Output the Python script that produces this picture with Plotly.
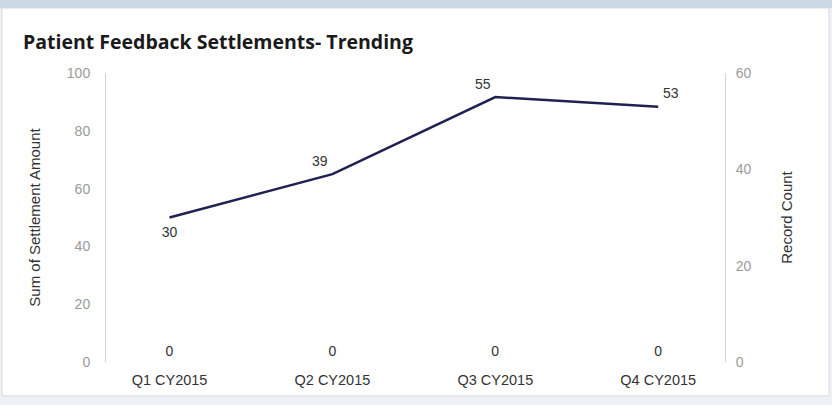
import plotly.graph_objects as go

# Quarterly data
quarters = ["Q1 CY2015", "Q2 CY2015", "Q3 CY2015", "Q4 CY2015"]
settlement_amount = [0, 0, 0, 0]
record_count = [30, 39, 55, 53]

left_ticks = [0, 20, 40, 60, 80, 100]
right_ticks = [0, 20, 40, 60]

W, H = 832, 405
L, R, T, B = 106, 725, 73, 362  # plot area in pixels
FONT = "Liberation Sans, Arial"


def px_x(px):
    return (px - L) / (R - L)


def px_y(py):
    return (B - py) / (B - T)


fig = go.Figure()

# Sum of Settlement Amount (all zero): bars of no height with their value labels
fig.add_trace(go.Bar(
    x=quarters, y=settlement_amount, yaxis="y",
    marker=dict(color="rgba(0,0,0,0)", line=dict(width=0)), width=0.5,
    text=[str(v) for v in settlement_amount], textposition="outside",
    textfont=dict(family=FONT, size=14, color="#333333"),
    cliponaxis=False, showlegend=False, hoverinfo="skip",
))

# Record Count line on the secondary axis (invisible markers give the labels some room)
fig.add_trace(go.Scatter(
    x=quarters, y=record_count, yaxis="y2", mode="lines+markers+text",
    line=dict(color="#1f2250", width=2.5),
    marker=dict(size=[12, 6, 6, 6], color="rgba(0,0,0,0)",
                line=dict(width=0, color="rgba(0,0,0,0)")),
    text=[str(v) for v in record_count],
    textposition=["bottom center", "top left", "top left", "top right"],
    textfont=dict(family=FONT, size=14, color="#333333"),
    cliponaxis=False, showlegend=False,
))

shapes = [
    # page frame
    dict(type="rect", xref="paper", yref="paper",
         x0=px_x(0), x1=px_x(W), y0=px_y(H), y1=px_y(0),
         fillcolor="#eef1f6", line_width=0, layer="below"),
    dict(type="rect", xref="paper", yref="paper",
         x0=px_x(0), x1=px_x(W), y0=px_y(8), y1=px_y(0),
         fillcolor="#ccd7e7", line_width=0, layer="below"),
    dict(type="rect", xref="paper", yref="paper",
         x0=px_x(2), x1=px_x(829), y0=px_y(396), y1=px_y(8),
         fillcolor="#ffffff", line=dict(color="#d6d9de", width=1), layer="below"),
]

fig.update_layout(
    width=W, height=H,
    margin=dict(l=L, r=W - R, t=T, b=H - B),
    paper_bgcolor="#ffffff", plot_bgcolor="rgba(0,0,0,0)",
    shapes=shapes,
    xaxis=dict(
        type="category", range=[-0.39, 3.41], showgrid=False, zeroline=False,
        showline=False, ticks="",
        tickfont=dict(family=FONT, size=14.5, color="#333333"),
        ticklabelstandoff=7,
    ),
    yaxis=dict(
        title=dict(text="Sum of Settlement Amount", standoff=22,
                   font=dict(family=FONT, size=15, color="#333333")),
        range=[0, 100], tickvals=left_ticks, showgrid=False, zeroline=False,
        showline=True, linecolor="#d4d4d4", linewidth=1, ticks="",
        tickfont=dict(family=FONT, size=14, color="#9a9a9a"),
        ticklabelstandoff=12,
    ),
    yaxis2=dict(
        title=dict(text="Record Count", standoff=30,
                   font=dict(family=FONT, size=15, color="#333333")),
        overlaying="y", side="right",
        range=[0, 60], tickvals=right_ticks, showgrid=False, zeroline=False,
        showline=True, linecolor="#d4d4d4", linewidth=1, ticks="",
        tickfont=dict(family=FONT, size=14, color="#9a9a9a"),
        ticklabelstandoff=7,
    ),
    annotations=[
        dict(text="Patient Feedback Settlements- Trending",
             xref="paper", yref="paper", x=px_x(21), y=px_y(42),
             xanchor="left", yanchor="middle", showarrow=False,
             font=dict(family="Open Sans", size=19.5, color="#1a1a1a", weight=700)),
    ],
)

fig.write_html("out.html")
